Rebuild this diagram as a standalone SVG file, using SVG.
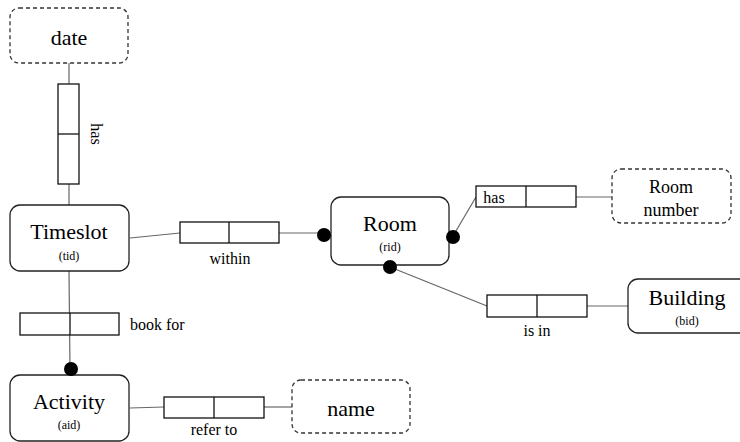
<svg xmlns="http://www.w3.org/2000/svg" width="740" height="442" viewBox="0 0 740 442">
<style>
text{fill:#000;text-anchor:middle;font-family:'Liberation Serif','Times New Roman',serif}
.ent{fill:#fff;stroke:#222;stroke-width:1.3}
.val{fill:#fff;stroke:#333;stroke-width:1.3;stroke-dasharray:4 3}
.big{font-size:22px}
.mid{font-size:18px}
.sm{font-size:12px}
.lbl{font-size:16px}
.role{fill:#fff;stroke:#111;stroke-width:1.3}
.ln{stroke:#666;stroke-width:1.2;fill:none}
.dot{fill:#000}
</style>
<rect width="740" height="442" fill="#fff"/>
<g id="connectors">
<line class="ln" x1="69" y1="63" x2="69" y2="84"/>
<line class="ln" x1="69" y1="184" x2="69" y2="205"/>
<line class="ln" x1="130" y1="238" x2="180" y2="233"/>
<line class="ln" x1="279" y1="233" x2="323" y2="233"/>
<line class="ln" x1="453" y1="236" x2="476" y2="197"/>
<line class="ln" x1="576" y1="197" x2="612" y2="197"/>
<line class="ln" x1="390" y1="267" x2="487" y2="306"/>
<line class="ln" x1="587" y1="306" x2="628" y2="306"/>
<line class="ln" x1="69" y1="271" x2="70" y2="369"/>
<line class="ln" x1="130" y1="408" x2="164" y2="407"/>
<line class="ln" x1="264" y1="407" x2="292" y2="407"/>
</g>
<g id="role-has-date">
<rect class="role" x="58" y="84" width="21" height="100"/>
<line class="role" x1="58" y1="134" x2="79" y2="134"/>
<text class="lbl" transform="translate(91,134) rotate(90)">has</text>
</g>
<g id="role-within">
<rect class="role" x="180" y="222" width="99" height="21"/>
<line class="role" x1="229" y1="222" x2="229" y2="243"/>
<text class="lbl" x="230" y="264">within</text>
</g>
<g id="role-has-number">
<rect class="role" x="476" y="186" width="100" height="21"/>
<line class="role" x1="526" y1="186" x2="526" y2="207"/>
<text class="lbl" x="494" y="203">has</text>
</g>
<g id="role-isin">
<rect class="role" x="487" y="295" width="100" height="22"/>
<line class="role" x1="537" y1="295" x2="537" y2="317"/>
<text class="lbl" x="537" y="336">is in</text>
</g>
<g id="role-bookfor">
<rect class="role" x="20" y="313" width="99" height="22"/>
<line class="role" x1="70" y1="313" x2="70" y2="335"/>
<text class="lbl" x="130" y="330" style="text-anchor:start">book for</text>
</g>
<g id="role-referto">
<rect class="role" x="164" y="397" width="100" height="21"/>
<line class="role" x1="214" y1="397" x2="214" y2="418"/>
<text class="lbl" x="214" y="435">refer to</text>
</g>
<g id="date">
<rect class="val" x="10" y="8" width="118" height="55" rx="9"/>
<text class="big" x="69" y="45">date</text>
</g>
<g id="timeslot">
<rect class="ent" x="10" y="205" width="119" height="66" rx="10"/>
<text class="big" x="69" y="239">Timeslot</text>
<text class="sm" x="69" y="260">(tid)</text>
</g>
<g id="room">
<rect class="ent" x="331" y="197" width="118" height="68" rx="10"/>
<text class="big" x="390" y="231">Room</text>
<text class="sm" x="390" y="251">(rid)</text>
<circle class="dot" cx="324" cy="235" r="7"/>
<circle class="dot" cx="453" cy="237" r="7"/>
<circle class="dot" cx="390" cy="267" r="7"/>
</g>
<g id="room-number">
<rect class="val" x="612" y="169" width="119" height="54" rx="9"/>
<text class="mid" x="671" y="193">Room</text>
<text class="mid" x="671" y="216">number</text>
</g>
<g id="building">
<rect class="ent" x="628" y="279" width="122" height="54" rx="10"/>
<text class="big" x="687" y="305">Building</text>
<text class="sm" x="687" y="325">(bid)</text>
</g>
<g id="activity">
<rect class="ent" x="10" y="375" width="119" height="66" rx="10"/>
<text class="big" x="69" y="409">Activity</text>
<text class="sm" x="69" y="429">(aid)</text>
<circle class="dot" cx="71" cy="369" r="7"/>
</g>
<g id="name">
<rect class="val" x="292" y="380" width="118" height="53" rx="9"/>
<text class="big" x="351" y="416">name</text>
</g>
</svg>
